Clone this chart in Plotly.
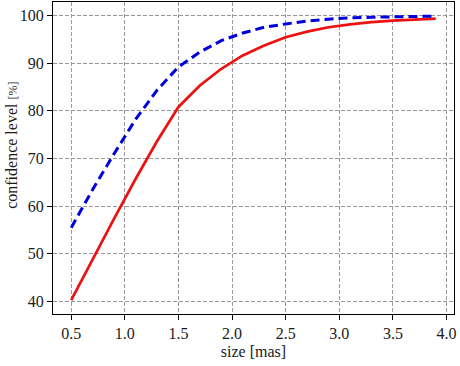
import plotly.graph_objects as go

size_mas = [0.5, 0.7, 0.9, 1.1, 1.3, 1.5, 1.7, 1.9, 2.1, 2.3, 2.5, 2.7, 2.9, 3.1, 3.3, 3.5, 3.7, 3.9]
conf_red = [40.3, 49.0, 57.4, 65.7, 73.6, 80.8, 85.3, 88.8, 91.6, 93.7, 95.4, 96.6, 97.5, 98.1, 98.6, 98.9, 99.1, 99.3]
conf_blue = [55.5, 63.5, 71.0, 78.2, 84.3, 89.2, 92.3, 94.7, 96.3, 97.5, 98.2, 98.8, 99.2, 99.5, 99.6, 99.7, 99.8, 99.85]

x_ticks = [0.5, 1.0, 1.5, 2.0, 2.5, 3.0, 3.5, 4.0]
y_ticks = [40, 50, 60, 70, 80, 90, 100]

font_family = "Liberation Serif, DejaVu Serif, serif"

fig = go.Figure()
fig.add_trace(go.Scatter(x=size_mas, y=conf_red, mode="lines",
                         line=dict(color="#ee1111", width=2.7), showlegend=False))
fig.add_trace(go.Scatter(x=size_mas, y=conf_blue, mode="lines",
                         line=dict(color="#0000dd", width=3, dash="9px,5px"), showlegend=False))

axis_common = dict(
    showline=True, linecolor="black", linewidth=1.3, mirror=True,
    ticks="outside", ticklen=5, tickwidth=1, tickcolor="black",
    showgrid=True, gridcolor="#999999", griddash="4px,2px", gridwidth=1,
    zeroline=False,
    tickfont=dict(family=font_family, size=16, color="#1a1a1a"),
)

fig.update_xaxes(range=[0.33, 4.07], tickvals=x_ticks,
                 ticktext=[f"{v:.1f}" for v in x_ticks],
                 title=dict(text="size [mas]", font=dict(family=font_family, size=16, color="#1a1a1a"), standoff=4),
                 **axis_common)
fig.update_yaxes(range=[37.4, 102.8], tickvals=y_ticks, **axis_common)

fig.add_annotation(
    text="confidence level <span style='font-size:12px'>[%]</span>",
    xref="paper", yref="paper", x=-0.104, y=0.54,
    xanchor="center", yanchor="middle", textangle=-90, showarrow=False,
    font=dict(family=font_family, size=16, color="#1a1a1a"),
)

fig.update_layout(
    width=460, height=366,
    margin=dict(l=53, r=6, t=2, b=52),
    paper_bgcolor="white", plot_bgcolor="white",
    font=dict(family=font_family),
)

fig.write_html("out.html")
